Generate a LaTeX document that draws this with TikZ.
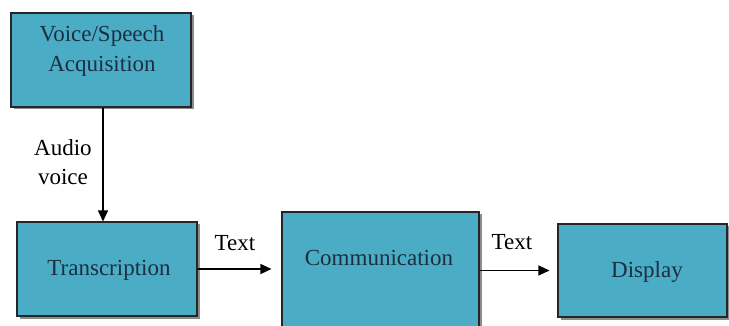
\documentclass[tikz,border=0pt]{standalone}
\usepackage{fontspec}
\setmainfont{Liberation Serif}
\usetikzlibrary{arrows.meta,shadows}
\definecolor{boxfill}{HTML}{4BACC6}
\definecolor{boxtext}{HTML}{1C2F40}
\tikzset{
  block/.style={draw=black!85, line width=1.1pt, fill=boxfill, inner sep=0pt,
    drop shadow={shadow xshift=2.5pt, shadow yshift=-2.5pt, fill=black!45, opacity=1}},
  blocktext/.style={text=boxtext, font=\rmfamily\fontsize{23}{30}\selectfont, align=center, inner sep=0pt},
  tag/.style={text=black, font=\rmfamily\fontsize{23}{29}\selectfont, align=center, inner sep=0pt},
  flow/.style={line width=1.3pt, -{Triangle[length=11pt,width=10pt]}}
}
\begin{document}
\begin{tikzpicture}[x=1pt, y=-1pt]
  \useasboundingbox (0,0) rectangle (729,326);
  \clip (0,0) rectangle (729,326);
  \fill[white] (0,0) rectangle (729,326);

  % blocks
  \node[block, minimum width=180pt, minimum height=94pt] (voice) at (101,60) {};
  \node[block, minimum width=180pt, minimum height=94pt] (trans) at (107,269) {};
  \node[block, minimum width=197pt, minimum height=124pt] (comm) at (380.5,274) {};
  \node[block, minimum width=169pt, minimum height=93pt] (disp) at (642.5,270.5) {};

  % block captions
  \node[blocktext] (voicetxt) at (102,51) {Voice/Speech\\Acquisition};
  \node[blocktext] (transtxt) at (109,270) {Transcription};
  \node[blocktext] (commtxt) at (379,258) {Communication};
  \node[blocktext] (disptxt) at (647,272) {Display};

  % connectors
  \draw[flow] (voice.south -| 103,0) -- (trans.north -| 103,0);
  \draw[flow, shorten >=10pt] (trans.east) -- (comm.west |- trans.east);
  \draw[flow, shorten >=8pt] (comm.east |- disp.west) -- (disp.west);

  % connector labels
  \node[tag] (audio) at (63,162) {Audio\\voice};
  \node[tag] (text1) at (235,243) {Text};
  \node[tag] (text2) at (512,242) {Text};
\end{tikzpicture}
\end{document}
